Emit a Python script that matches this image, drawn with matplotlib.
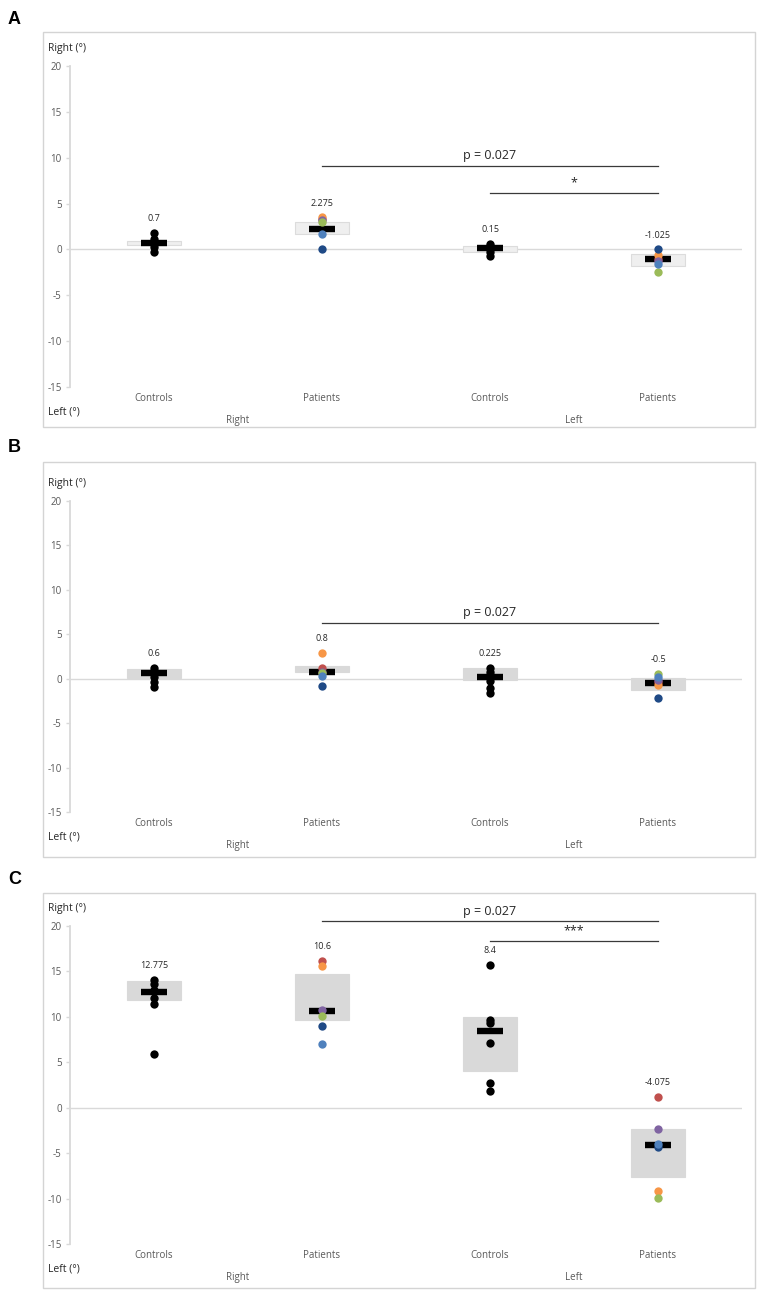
import matplotlib
matplotlib.use("Agg")
import matplotlib.pyplot as plt
from matplotlib.patches import Rectangle
import matplotlib.transforms as mtransforms

plt.rcParams['font.family'] = ['Open Sans', 'DejaVu Sans']

# ---------------- data ----------------
categories = ["Controls", "Patients", "Controls", "Patients"]
sides = ["Right", "Left"]
panel_letters = ["A", "B", "C"]
yticks = [-15, -10, -5, 0, 5, 10, 15, 20]

# patient order: red, orange, purple, green, dark blue, light blue
a_ctrl_right = [1.8, 1.1, 0.8, 0.6, 0.3, -0.3]
a_pat_right = [3.3, 3.5, 3.2, 3.0, 0.0, 1.7]
a_ctrl_left = [0.6, 0.4, 0.2, 0.1, -0.3, -0.7]
a_pat_left = [-1.0, -0.6, -1.3, -2.5, 0.0, -1.6]
a_center = [0.7, 2.275, 0.15, -1.025]
a_box_low = [0.45, 1.7, -0.3, -1.8]
a_box_high = [0.9, 3.0, 0.33, -0.5]
a_sig_from = [1, 2]
a_sig_to = [3, 3]
a_sig_y = [9.1, 6.2]
a_sig_text = ["p = 0.027", "*"]

b_ctrl_right = [1.2, 0.9, 0.6, 0.2, -0.4, -0.9]
b_pat_right = [1.2, 2.9, 0.8, 0.6, -0.86, 0.3]
b_ctrl_left = [1.2, 0.8, 0.4, -0.3, -1.0, -1.6]
b_pat_left = [-0.4, -0.67, -0.2, 0.56, -2.2, 0.2]
b_center = [0.6, 0.8, 0.225, -0.5]
b_box_low = [0.1, 0.8, -0.1, -1.3]
b_box_high = [1.1, 1.4, 1.2, 0.08]
b_sig_from = [1]
b_sig_to = [3]
b_sig_y = [6.3]
b_sig_text = ["p = 0.027"]

c_ctrl_right = [14.1, 13.6, 13.0, 12.1, 11.45, 5.9]
c_pat_right = [16.2, 15.6, 10.8, 10.07, 9.0, 7.05]
c_ctrl_left = [15.7, 9.7, 9.3, 7.1, 2.7, 1.8]
c_pat_left = [1.18, -9.2, -2.35, -9.9, -4.3, -4.0]
c_center = [12.775, 10.6, 8.4, -4.075]
c_box_low = [11.9, 9.6, 4.0, -7.66]
c_box_high = [13.9, 14.7, 9.95, -2.35]
c_sig_from = [1, 2]
c_sig_to = [3, 3]
c_sig_y = [20.5, 18.4]
c_sig_text = ["p = 0.027", "***"]

panels = [
    dict(groups=[a_ctrl_right, a_pat_right, a_ctrl_left, a_pat_left], center=a_center,
         low=a_box_low, high=a_box_high, sf=a_sig_from, st=a_sig_to, sy=a_sig_y, stext=a_sig_text),
    dict(groups=[b_ctrl_right, b_pat_right, b_ctrl_left, b_pat_left], center=b_center,
         low=b_box_low, high=b_box_high, sf=b_sig_from, st=b_sig_to, sy=b_sig_y, stext=b_sig_text),
    dict(groups=[c_ctrl_right, c_pat_right, c_ctrl_left, c_pat_left], center=c_center,
         low=c_box_low, high=c_box_high, sf=c_sig_from, st=c_sig_to, sy=c_sig_y, stext=c_sig_text),
]

# ---------------- style / layout ----------------
W, H = 762, 1300
patient_colors = ['#c0504d', '#f79646', '#8064a2', '#9bbb59', '#1f4a86', '#4f81bd']
box_faces = ['#efefef', '#d9d9d9', '#d9d9d9']
box_edges = ['#dcdcdc', '#d9d9d9', '#d9d9d9']
# (frame_top, frame_bottom, axes_top, axes_bottom, letter_y) in pixels from top
layout = [(32, 427, 66, 387, 20), (462, 857, 501, 812, 447), (893, 1288, 926, 1244, 880)]
ax_left_px, ax_right_px = 70, 742
frame_left_px, frame_right_px = 43, 755

fig = plt.figure(figsize=(W / 100, H / 100), dpi=100)
fig.patch.set_facecolor('white')

text_dark = '#262626'
tick_col = '#595959'
grid_col = '#d9d9d9'

for i, p in enumerate(panels):
    ftop, fbot, atop, abot, ly = layout[i]
    # panel frame
    fig.patches.append(Rectangle((frame_left_px / W, 1 - fbot / H),
                                 (frame_right_px - frame_left_px) / W, (fbot - ftop) / H,
                                 transform=fig.transFigure, facecolor='none',
                                 edgecolor='#d4d4d4', lw=1.0, zorder=0))
    fig.text(8 / W, 1 - ly / H, panel_letters[i], fontsize=13, fontweight='bold',
             family=['Liberation Sans', 'DejaVu Sans'], ha='left', va='center', color='black')
    fig.text(48 / W, 1 - (atop - 18) / H, "Right (°)", fontsize=7.5, color=text_dark,
             ha='left', va='center')
    fig.text(48 / W, 1 - (abot + 25) / H, "Left (°)", fontsize=7.5, color=text_dark,
             ha='left', va='center')

    ax = fig.add_axes([ax_left_px / W, 1 - abot / H, (ax_right_px - ax_left_px) / W, (abot - atop) / H])
    ax.set_xlim(0, 4)
    ax.set_ylim(-15, 20)
    ax.patch.set_alpha(0)
    for s in ['top', 'right', 'bottom']:
        ax.spines[s].set_visible(False)
    ax.spines['left'].set_color(grid_col)
    ax.spines['left'].set_linewidth(1.3)
    ax.set_yticks(yticks)
    ax.set_yticklabels([str(t) for t in yticks])
    ax.tick_params(axis='y', colors=grid_col, labelcolor=tick_col, labelsize=7, length=3, width=1, pad=3)
    ax.set_xticks([])
    ax.axhline(0, color=grid_col, lw=1.0, zorder=0)

    xs = [k + 0.5 for k in range(4)]
    heights = [h - l for h, l in zip(p['high'], p['low'])]
    ax.bar(xs, heights, bottom=p['low'], width=0.32, color=box_faces[i],
           edgecolor=box_edges[i], lw=0.8, zorder=1)
    ax.hlines(p['center'], [x - 0.075 for x in xs], [x + 0.075 for x in xs],
              color='black', lw=4.6, zorder=3)

    for k, vals in enumerate(p['groups']):
        if k % 2 == 0:
            ax.scatter([xs[k]] * len(vals), vals, s=36, color='black', zorder=4, linewidths=0)
        else:
            for v, c in zip(vals, patient_colors):
                ax.scatter([xs[k]], [v], s=36, color=c, zorder=4, linewidths=0)
        ax.annotate(f"{p['center'][k]:g}", (xs[k], max(vals)), xytext=(0, 7),
                    textcoords='offset points', ha='center', va='bottom',
                    fontsize=6.5, color=text_dark)
        ax.annotate(categories[k], xy=(xs[k], 0), xycoords=('data', 'axes fraction'),
                    xytext=(0, -8.5), textcoords='offset points', ha='center', va='center',
                    fontsize=7, color=tick_col, annotation_clip=False)
    for j, side in enumerate(sides):
        ax.annotate(side, xy=(2 * j + 1.0, 0), xycoords=('data', 'axes fraction'),
                    xytext=(0, -24), textcoords='offset points', ha='center', va='center',
                    fontsize=7, color=tick_col, annotation_clip=False)

    for a, b, y, t in zip(p['sf'], p['st'], p['sy'], p['stext']):
        x1, x2 = xs[a], xs[b]
        ax.plot([x1, x2], [y, y], color='#3a3a3a', lw=0.9, clip_on=False, zorder=5)
        ax.annotate(t, ((x1 + x2) / 2, y), xytext=(0, 2.5), textcoords='offset points',
                    ha='center', va='bottom', fontsize=9 if t.startswith('p') else 9,
                    color=text_dark, annotation_clip=False)

fig.savefig("out.png", dpi=100, facecolor='white')
